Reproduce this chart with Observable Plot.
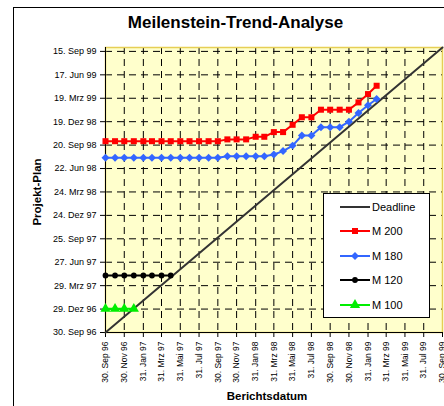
<!DOCTYPE html>
<html><head><meta charset="utf-8">
<script src="https://cdn.jsdelivr.net/npm/d3@7"></script>
<script src="https://cdn.jsdelivr.net/npm/@observablehq/plot@0.6"></script>
<style>html,body{margin:0;padding:0;background:#fff;} svg{display:block;}</style>
</head><body><div id="chart"></div>
<script>
const monthNames = ["Jan","Feb","Mrz","Apr","Mai","Jun","Jul","Aug","Sep","Okt","Nov","Dez"];
const axisStart = "1996-09-30";
const axisEnd = "1999-09-30";
const reportDates = ["1996-09-30","1996-10-31","1996-11-30","1996-12-31","1997-01-31","1997-02-28","1997-03-31","1997-04-30","1997-05-31","1997-06-30","1997-07-31","1997-08-31","1997-09-30","1997-10-31","1997-11-30","1997-12-31","1998-01-31","1998-02-28","1998-03-31","1998-04-30","1998-05-31","1998-06-30","1998-07-31","1998-08-31","1998-09-30","1998-10-31","1998-11-30","1998-12-31","1999-01-31","1999-02-28"];
const m200 = ["1998-10-05","1998-10-05","1998-10-05","1998-10-05","1998-10-05","1998-10-05","1998-10-05","1998-10-05","1998-10-05","1998-10-05","1998-10-05","1998-10-05","1998-10-05","1998-10-12","1998-10-12","1998-10-12","1998-10-22","1998-10-22","1998-11-09","1998-11-09","1998-12-07","1999-01-05","1999-01-05","1999-02-03","1999-02-03","1999-02-03","1999-02-03","1999-03-03","1999-04-04","1999-05-06"];
const m180 = ["1998-08-02","1998-08-02","1998-08-02","1998-08-02","1998-08-02","1998-08-02","1998-08-02","1998-08-02","1998-08-02","1998-08-02","1998-08-02","1998-08-02","1998-08-02","1998-08-08","1998-08-08","1998-08-08","1998-08-08","1998-08-08","1998-08-15","1998-08-28","1998-09-18","1998-10-27","1998-10-27","1998-11-28","1998-11-28","1998-11-28","1998-12-19","1999-01-21","1999-02-20","1999-03-16"];
const m120 = ["1997-05-07","1997-05-07","1997-05-07","1997-05-07","1997-05-07","1997-05-07","1997-05-07","1997-05-07"];
const m100 = ["1996-12-30","1996-12-30","1996-12-30","1996-12-30"];
const deadline = [axisStart, axisEnd];
const xTickDates = ["1996-09-30","1996-11-30","1997-01-31","1997-03-31","1997-05-31","1997-07-31","1997-09-30","1997-11-30","1998-01-31","1998-03-31","1998-05-31","1998-07-31","1998-09-30","1998-11-30","1999-01-31","1999-03-31","1999-05-31","1999-07-31","1999-09-30"];
const yTickDates = ["1996-09-30","1996-12-29","1997-03-29","1997-06-27","1997-09-25","1997-12-24","1998-03-24","1998-06-22","1998-09-20","1998-12-19","1999-03-19","1999-06-17","1999-09-15"];
const seriesNames = ["Deadline","M 200","M 180","M 120","M 100"];
const seriesColors = ["#333333","#ff0000","#3366ff","#000000","#00ee00"];
const seriesSymbols = [null,"square","diamond2","circle","triangle"];
const seriesR = [0,3.4,3.6,2.9,3.8];

const parse = s => new Date(s + "T00:00:00Z");
const fmt = d => `${d.getUTCDate()}. ${monthNames[d.getUTCMonth()]} ${String(d.getUTCFullYear()).slice(2)}`;
const toRows = (vals) => vals.map((v, i) => ({x: parse(reportDates[i]), y: parse(v)}));
const seriesData = [
  deadline.map(v => ({x: parse(v), y: parse(v)})),
  toRows(m200), toRows(m180), toRows(m120), toRows(m100)
];
const dom = [parse(axisStart), parse(axisEnd)];
const font = "'Liberation Sans', Arial, sans-serif";

const marks = [
  Plot.frame({fill: "#ffffcc", stroke: null}),
  Plot.gridX({ticks: xTickDates.map(parse), stroke: "#000", strokeOpacity: 1, strokeDasharray: "7,5"}),
  Plot.gridY({ticks: yTickDates.map(parse), stroke: "#000", strokeOpacity: 1, strokeDasharray: "7,5"}),
  Plot.frame({stroke: "#e6cf55", strokeWidth: 1.5}),
  Plot.ruleX([dom[0]], {stroke: "#000"}),
  Plot.ruleY([dom[0]], {stroke: "#000"}),
  Plot.axisX({ticks: xTickDates.map(parse), tickFormat: fmt, tickRotate: -90, fontSize: 8.5, tickSize: 5, tickPadding: 4, label: null}),
  Plot.axisY({ticks: yTickDates.map(parse), tickFormat: fmt, fontSize: 9, tickSize: 5, tickPadding: 4, label: null})
];
seriesData.forEach((data, k) => {
  marks.push(Plot.line(data, {x: "x", y: "y", stroke: seriesColors[k], strokeWidth: 2}));
  if (seriesSymbols[k]) marks.push(Plot.dot(data, {x: "x", y: "y", symbol: seriesSymbols[k], r: seriesR[k], fill: seriesColors[k], stroke: "none"}));
});

const chart = Plot.plot({
  width: 444, height: 406,
  marginLeft: 105, marginRight: 2, marginTop: 47, marginBottom: 74,
  style: {fontFamily: font, background: "#fff", color: "#000"},
  x: {type: "utc", domain: dom},
  y: {type: "utc", domain: dom},
  marks
});
document.getElementById("chart").appendChild(chart);

const svg = d3.select(chart);
svg.append("rect").attr("x", 13.5).attr("y", 7.5).attr("width", 460).attr("height", 420)
  .attr("fill", "none").attr("stroke", "#000");
svg.append("text").attr("x", 235.5).attr("y", 28).attr("text-anchor", "middle")
  .attr("font-family", font).attr("font-weight", "bold").attr("font-size", 17).text("Meilenstein-Trend-Analyse");
svg.append("text").attr("transform", "translate(41,192) rotate(-90)").attr("text-anchor", "middle")
  .attr("font-family", font).attr("font-weight", "bold").attr("font-size", 11.5).text("Projekt-Plan");
svg.append("text").attr("x", 267).attr("y", 400).attr("text-anchor", "middle")
  .attr("font-family", font).attr("font-weight", "bold").attr("font-size", 11.5).text("Berichtsdatum");

const lg = svg.append("g");
lg.append("rect").attr("x", 323.5).attr("y", 193.5).attr("width", 106).attr("height", 124)
  .attr("fill", "#fff").attr("stroke", "#000");
const symMap = {square: d3.symbolSquare, diamond2: d3.symbolDiamond2, circle: d3.symbolCircle, triangle: d3.symbolTriangle};
const ly = [207, 231, 256, 280, 305];
seriesNames.forEach((name, k) => {
  lg.append("line").attr("x1", 340).attr("x2", 370).attr("y1", ly[k]).attr("y2", ly[k])
    .attr("stroke", seriesColors[k]).attr("stroke-width", 2);
  if (seriesSymbols[k]) {
    lg.append("path").attr("transform", `translate(355,${ly[k]})`)
      .attr("d", d3.symbol(symMap[seriesSymbols[k]], Math.PI * seriesR[k] * seriesR[k])())
      .attr("fill", seriesColors[k]);
  }
  lg.append("text").attr("x", 372).attr("y", ly[k]).attr("dy", "0.35em").attr("text-anchor", "start")
    .attr("font-family", font).attr("font-size", 11).text(name);
});
</script>
</body></html>
